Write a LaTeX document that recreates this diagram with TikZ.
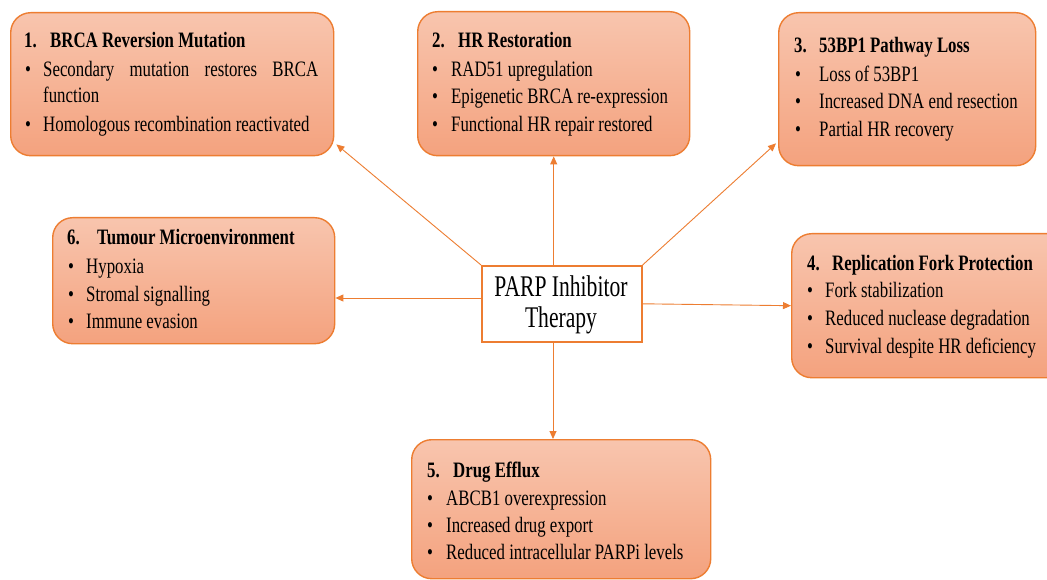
\documentclass[tikz,border=0pt]{standalone}
\usepackage{fontspec}
\setmainfont{Liberation Serif}[FakeStretch=0.765]
\newfontfamily\centerfont{Liberation Serif}[FakeStretch=0.72]
\usetikzlibrary{arrows.meta,calc}
\definecolor{edgeor}{RGB}{237,125,49}
\definecolor{boxtop}{RGB}{248,197,174}
\definecolor{boxbot}{RGB}{244,162,126}
\newcommand\ttlline[5]{\node[txt,font=\fontsize{22}{27}\selectfont\bfseries] (#1) at (#2) {\makebox[#3][l]{#4}#5};}
\newcommand\itmline[4]{\node[txt] (#1) at (#2) {\makebox[#3][l]{\textbullet}#4};}
\begin{document}
\begin{tikzpicture}[x=1pt,y=-1pt,
  box/.style={draw=edgeor,line width=1.4pt,rounded corners=20pt,top color=boxtop,bottom color=boxbot,anchor=north west,inner sep=0pt},
  cbox/.style={draw=edgeor,line width=1.6pt,fill=white,anchor=north west,inner sep=0pt},
  txt/.style={anchor=base west,inner sep=0pt,font=\fontsize{22}{27}\selectfont,text=black},
  ctxt/.style={anchor=base,inner sep=0pt,font=\centerfont\fontsize{30}{31}\selectfont,text=black},
  conn/.style={draw=edgeor,line width=0.9pt,-{Triangle[length=8pt,width=7pt]}}]
\clip (0,0) rectangle (1047,580);
\fill[white] (0,0) rectangle (1047,580);
% boxes
\node[box,minimum width=323pt,minimum height=143pt] (b1) at (10,12) {};
\node[box,minimum width=272pt,minimum height=144pt] (b2) at (417,11) {};
\node[box,minimum width=257pt,minimum height=153pt] (b3) at (778,12) {};
\node[box,minimum width=282pt,minimum height=126pt] (b6) at (52,217) {};
\node[box,minimum width=275pt,minimum height=144pt] (b4) at (791,233) {};
\node[box,minimum width=299pt,minimum height=139pt] (b5) at (411,439) {};
\node[cbox,minimum width=160pt,minimum height=76pt] (c) at (481,265) {};
% center text
\node[ctxt] (ct1) at (561,296) {PARP Inhibitor};
\node[ctxt] (ct2) at (561,327) {Therapy};
% box 1
\ttlline{b1t}{24,48}{26pt}{1.}{BRCA Reversion Mutation}
\itmline{b1a}{25,77}{18pt}{\makebox[275pt][s]{Secondary mutation restores BRCA}}
\node[txt] (b1b) at (43,103) {function};
\itmline{b1c}{25,132}{18pt}{Homologous recombination reactivated}
% box 2
\ttlline{b2t}{432,48}{26pt}{2.}{HR Restoration}
\itmline{b2a}{432,77}{19pt}{RAD51 upregulation}
\itmline{b2b}{432,104}{19pt}{Epigenetic BRCA re-expression}
\itmline{b2c}{432,132}{19pt}{Functional HR repair restored}
% box 3
\ttlline{b3t}{794,53}{25pt}{3.}{53BP1 Pathway Loss}
\itmline{b3a}{795,82}{24pt}{Loss of 53BP1}
\itmline{b3b}{795,109}{24pt}{Increased DNA end resection}
\itmline{b3c}{795,137}{24pt}{Partial HR recovery}
% box 6
\ttlline{b6t}{67,245}{30pt}{6.}{Tumour Microenvironment}
\itmline{b6a}{68,273}{18pt}{Hypoxia}
\itmline{b6b}{68,301}{18pt}{Stromal signalling}
\itmline{b6c}{68,328}{18pt}{Immune evasion}
% box 4
\ttlline{b4t}{807,270}{25pt}{4.}{Replication Fork Protection}
\itmline{b4a}{807,298}{18pt}{Fork stabilization}
\itmline{b4b}{807,325}{18pt}{Reduced nuclease degradation}
\itmline{b4c}{807,353}{18pt}{Survival despite HR deficiency}
% box 5
\ttlline{b5t}{427,477}{26pt}{5.}{Drug Efflux}
\itmline{b5a}{427,505}{19pt}{ABCB1 overexpression}
\itmline{b5b}{427,532}{19pt}{Increased drug export}
\itmline{b5c}{427,559}{19pt}{Reduced intracellular PARPi levels}
% connectors
\draw[conn] (c.north west) -- ($(b1.south east)+(2,-12)$);
\draw[conn] (c.north -| b2.south) -- (b2.south);
\draw[conn] (c.north east) -- ($(b3.south west)+(-2,-23)$);
\draw[conn] ($(c.north west)+(0,33)$) coordinate (cw) -- (cw -| b6.east);
\draw[conn] (c.east) -- (b4.west);
\draw[conn] ($(c.south west)+(72,0)$) -- ($(b5.north west)+(142,0)$);
\end{tikzpicture}
\end{document}
